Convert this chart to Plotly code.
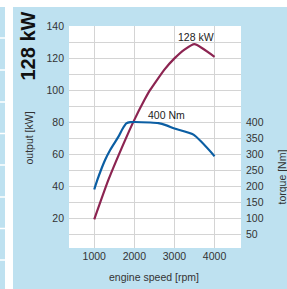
import plotly.graph_objects as go

# data
rpm_power = [1000, 1350, 1770, 1975, 2250, 2390, 2500, 2750, 3000, 3250, 3500, 4000]
power_kw = [19.4, 43.8, 68.8, 80.2, 93.8, 100.0, 104.0, 112.8, 119.8, 125.3, 128.7, 120.8]

rpm_torque = [1000, 1075, 1267, 1400, 1600, 1700, 1800, 1900, 2400, 2600, 2800, 3000, 3475, 4000]
torque_nm = [190, 219, 281, 314, 354, 378, 396, 400, 399, 397, 390, 380, 361, 294]

x_ticks = [1000, 2000, 3000, 4000]
kw_ticks = [20, 40, 60, 80, 100, 120, 140]
nm_ticks = [50, 100, 150, 200, 250, 300, 350, 400]

BLUE_BG = "#bee1f0"
POWER_C = "#8c2451"
TORQUE_C = "#0b5ea3"
GRID_C = "#d4d4d4"
TXT = "#333333"
FONT = "Liberation Sans, Arial, sans-serif"

W, H = 287, 289
L, R, T, B = 69, 46, 26, 41
pw, ph = W - L - R, H - T - B

def px(x):
    return (x - L) / pw

def py(y):
    return (H - B - y) / ph

fig = go.Figure()
fig.add_trace(go.Scatter(x=rpm_torque, y=torque_nm, yaxis="y2", mode="lines",
                         line=dict(color=TORQUE_C, width=2.2, shape="spline", smoothing=0.6),
                         showlegend=False))
fig.add_trace(go.Scatter(x=rpm_power, y=power_kw, mode="lines",
                         line=dict(color=POWER_C, width=2.2, shape="spline", smoothing=0.5),
                         showlegend=False))

shapes = [
    dict(type="rect", xref="paper", yref="paper", x0=px(0), x1=px(W), y0=py(0), y1=py(7),
         fillcolor="white", line=dict(width=0), layer="below"),
    dict(type="rect", xref="paper", yref="paper", x0=px(5), x1=px(13), y0=py(0), y1=py(H),
         fillcolor="white", line=dict(width=0), layer="below"),
]
for yy in [38, 70, 102, 133.5, 165, 197, 228.5, 260]:
    shapes.append(dict(type="line", xref="paper", yref="paper", x0=px(0), x1=px(5),
                       y0=py(yy), y1=py(yy), line=dict(color="white", width=1.5), layer="below"))

def ann(text, x, y, size=10.5, color=TXT, angle=0, xref="paper", yref="paper"):
    return dict(text=text, xref=xref, yref=yref, x=x, y=y, textangle=angle,
                xanchor="center", yanchor="middle", showarrow=False,
                font=dict(size=size, color=color, family=FONT))

annotations = [
    ann("<b>128 kW</b>", px(27.5), py(46), size=20, color="#111111", angle=-90),
    ann("output [kW]", px(28.5), py(138), angle=-90),
    ann("torque [Nm]", px(281.5), py(177), angle=-90),
    ann("engine speed [rpm]", px(154), py(276.5)),
    ann("128 kW", 3530, 133.2, color="#222222", xref="x", yref="y"),
    ann("400 Nm", 2790, 84.2, color="#222222", xref="x", yref="y"),
]

fig.update_layout(
    width=W, height=H,
    margin=dict(l=L, r=R, t=T, b=B, pad=0),
    paper_bgcolor=BLUE_BG, plot_bgcolor="white",
    font=dict(family=FONT, size=10.5, color=TXT),
    shapes=shapes, annotations=annotations,
    xaxis=dict(range=[370, 4660], tickvals=x_ticks, showgrid=True, gridcolor=GRID_C,
               gridwidth=1.3, zeroline=False, showline=False, ticks="", automargin=False,
               tickfont=dict(size=10.5, color=TXT), fixedrange=True),
    yaxis=dict(range=[1.5, 140], tick0=0, dtick=20, showgrid=True, gridcolor=GRID_C,
               gridwidth=1.3, minor=dict(dtick=10, showgrid=True, gridcolor=GRID_C, gridwidth=1.3),
               zeroline=False, showline=False, ticks="", ticklabelstandoff=4, automargin=False,
               tickfont=dict(size=10.5, color=TXT)),
    yaxis2=dict(range=[7.5, 700], overlaying="y", side="right", tickvals=nm_ticks,
                showgrid=False, zeroline=False, showline=False, ticks="", ticklabelstandoff=4,
                automargin=False, tickfont=dict(size=10.5, color=TXT)),
)

fig.write_html("out.html", config={"displayModeBar": False},
               post_script="document.body.style.margin='0';")
